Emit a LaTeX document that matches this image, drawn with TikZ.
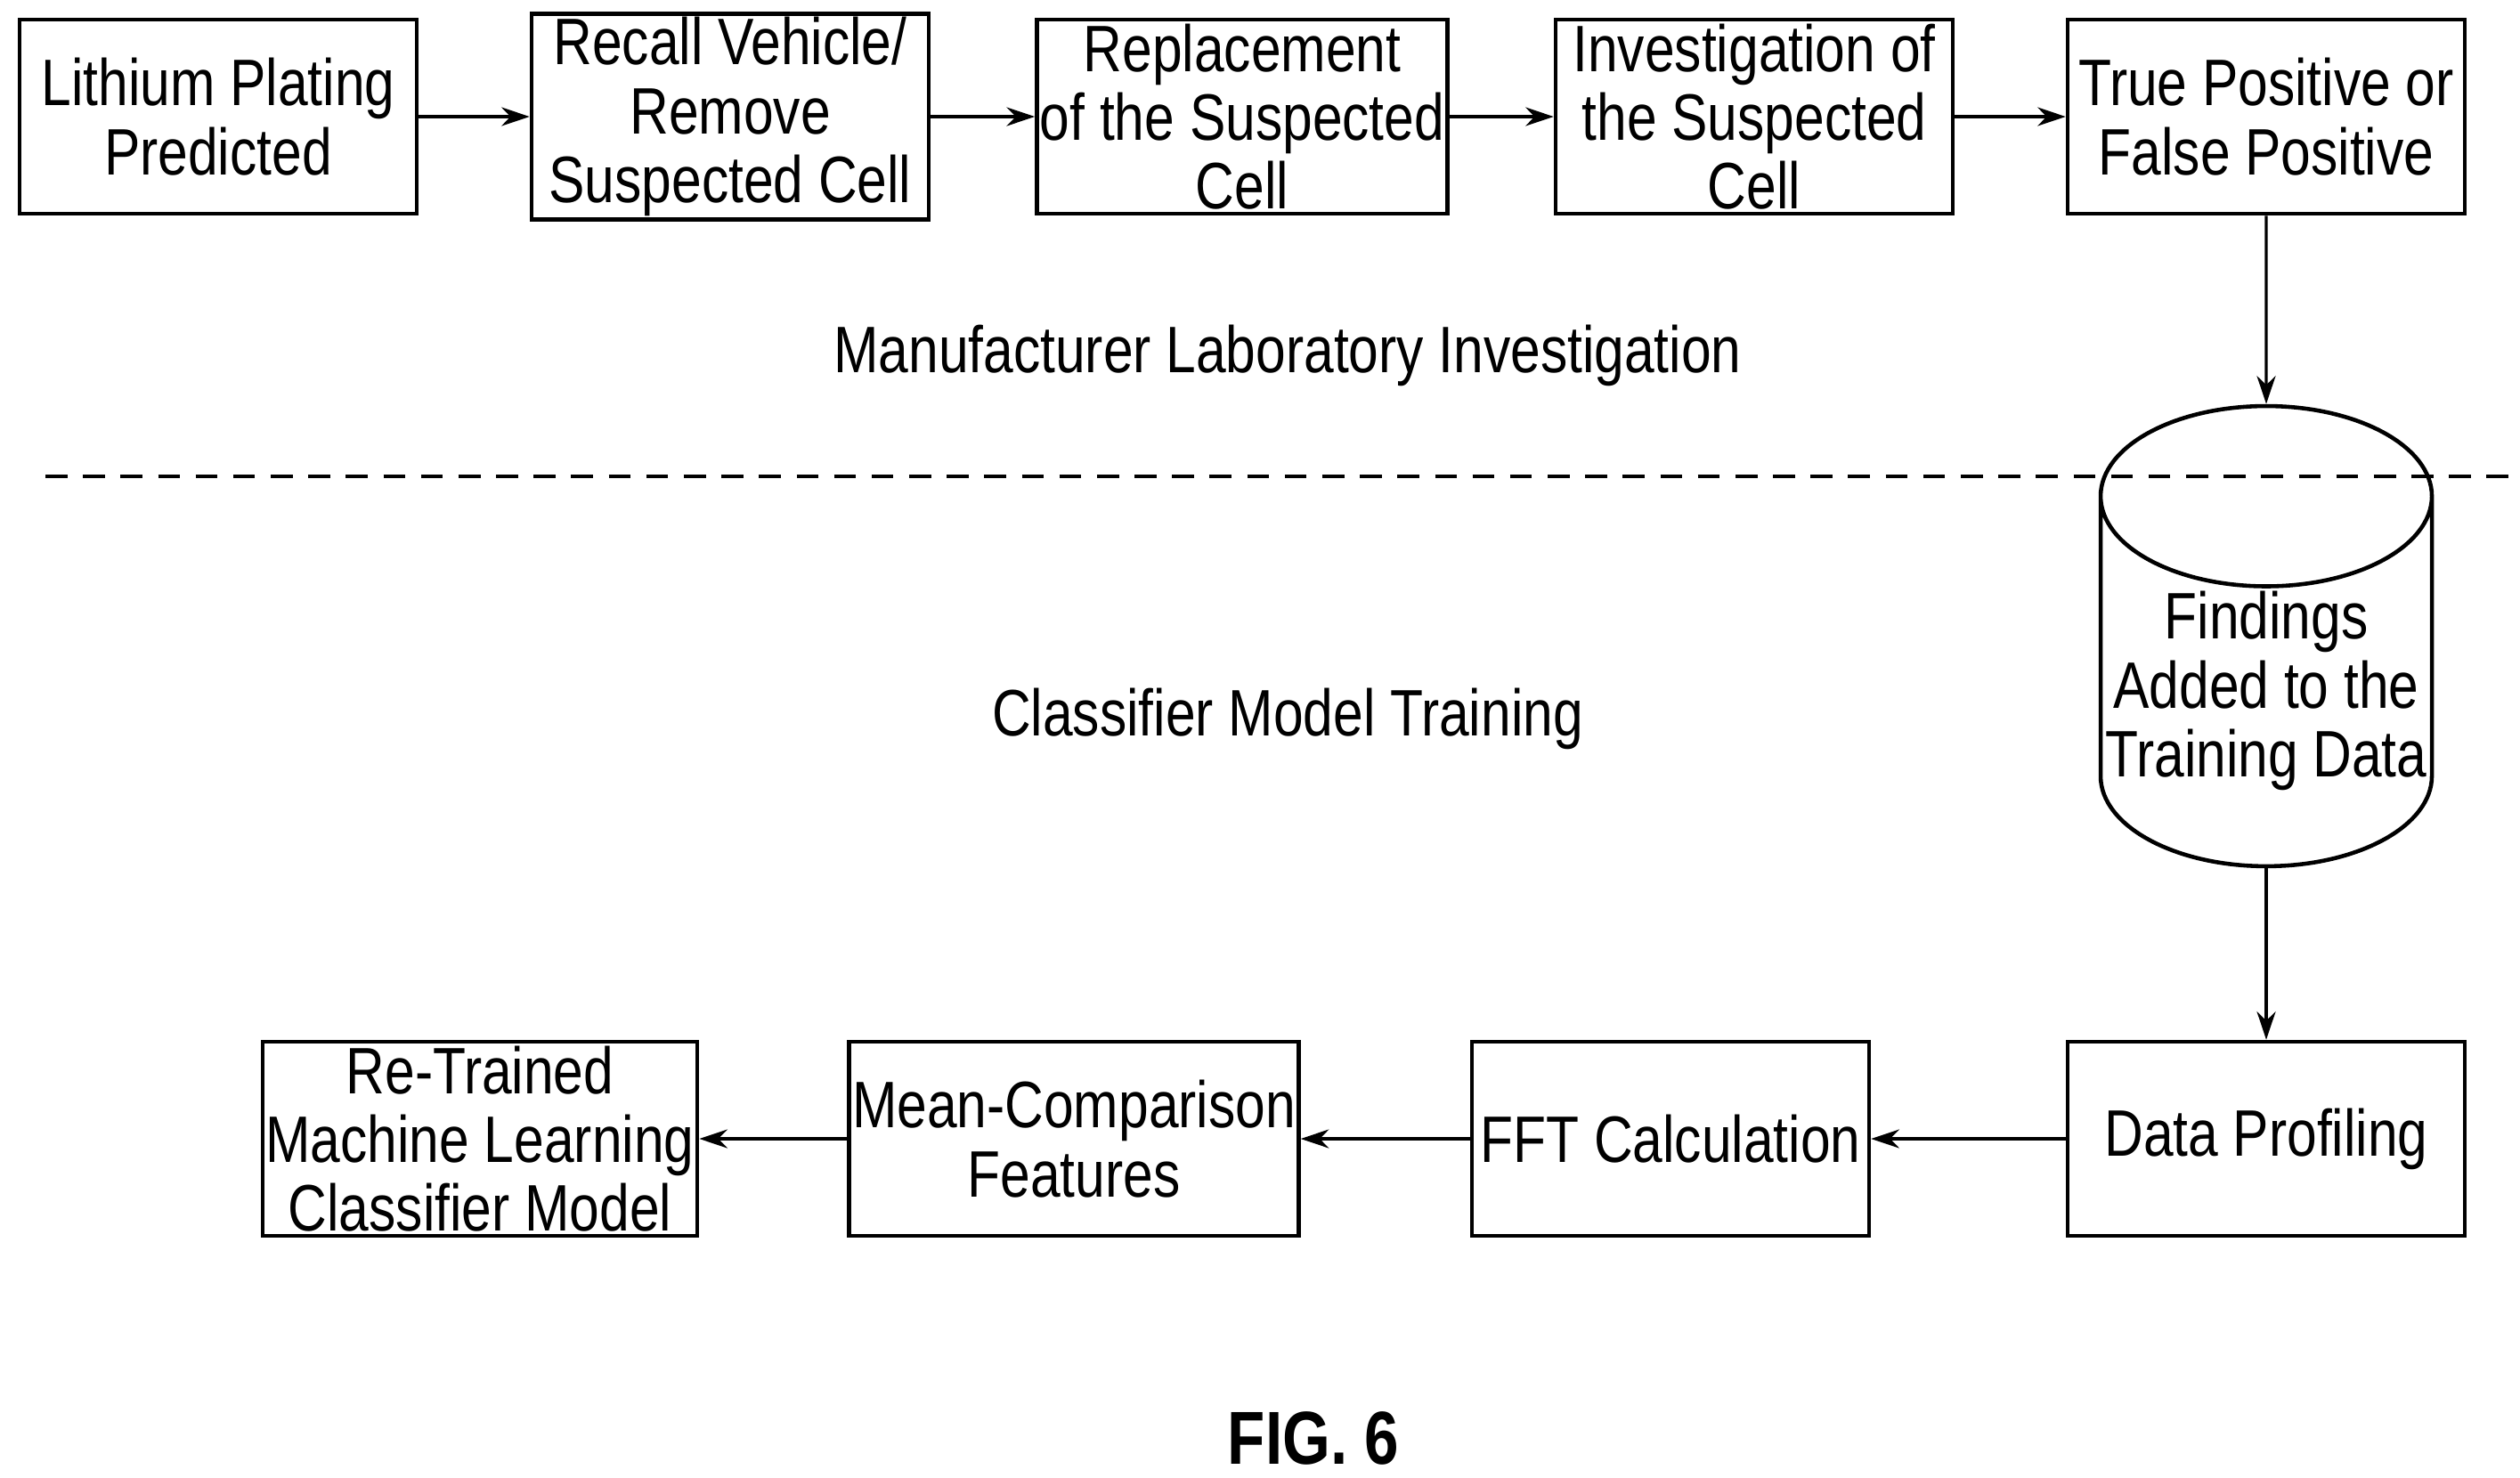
\documentclass[tikz,border=0pt]{standalone}
\usepackage{fontspec}
\setmainfont{Liberation Sans}[FakeStretch=0.82]
\usetikzlibrary{arrows.meta}
\usetikzlibrary{shapes.geometric}

\begin{document}
\begin{tikzpicture}[
  box/.style={draw, line width=1.3pt, minimum width=4.46cm, minimum height=2.18cm,
    align=center, inner sep=1pt, font=\fontsize{21}{22}\selectfont},
  flow/.style={-{Stealth[length=9pt,width=6pt]}, line width=0.9pt},
  caption/.style={font=\fontsize{21}{24}\selectfont}]

\useasboundingbox (0,0) rectangle (28.30,-16.59);

% First, the top row of boxes
\node[box] (plating) at (2.45,-1.31) {Lithium Plating\\Predicted};
\node[box] (recall) at (8.20,-1.31) {Recall Vehicle/\\Remove\\Suspected Cell};
\node[box] (replace) at (13.95,-1.31) {Replacement\\of the Suspected\\Cell};
\node[box] (investigate) at (19.70,-1.31) {Investigation of\\the Suspected\\Cell};
\node[box] (truefalse) at (25.45,-1.31) {True Positive or\\False Positive};

% Section labels and the dashed divider
\node[caption] (labtext) at (14.46,-3.99) {Manufacturer Laboratory Investigation};
\node[caption] (traintext) at (14.46,-8.07) {Classifier Model Training};
\draw[dashed, line width=0.9pt, dash pattern=on 7pt off 5pt] (0.51,-5.35) -- (28.23,-5.35);

% Training data store
\node[draw, line width=1.3pt, cylinder, shape border rotate=90, aspect=0.55,
  minimum width=3.72cm, minimum height=3.72cm, align=center, inner sep=1pt,
  font=\fontsize{21}{22}\selectfont] (findings) at (25.45,-7.76)
  {Findings\\Added to the\\Training Data};

% Bottom row of boxes
\node[box] (profiling) at (25.45,-12.79) {Data Profiling};
\node[box] (fft) at (18.76,-12.79) {FFT Calculation};
\node[box] (meancomp) at (12.06,-12.79) {Mean-Comparison\\Features};
\node[box] (retrained) at (5.39,-12.79) {Re-Trained\\Machine Learning\\Classifier Model};

\node[font=\bfseries\fontsize{24}{26}\selectfont] (figlabel) at (14.75,-16.15) {FIG. 6};

% Connectors
\draw[flow] (plating) -- (recall);
\draw[flow] (recall) -- (replace);
\draw[flow] (replace) -- (investigate);
\draw[flow] (investigate) -- (truefalse);
\draw[flow] (truefalse) -- (findings);
\draw[flow] (findings) -- (profiling);
\draw[flow] (profiling) -- (fft);
\draw[flow] (fft) -- (meancomp);
\draw[flow] (meancomp) -- (retrained);
\end{tikzpicture}
\end{document}
